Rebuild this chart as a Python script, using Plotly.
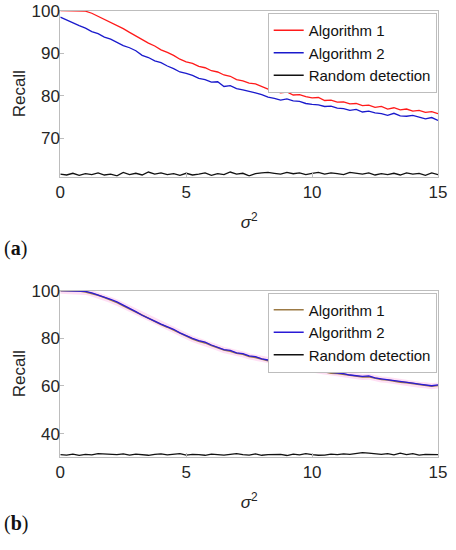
import plotly.graph_objects as go

# noise variance (x axis), shared by every curve
sigma2 = [0, 0.25, 0.5, 0.75, 1, 1.25, 1.5, 1.75, 2, 2.25,
          2.5, 2.75, 3, 3.25, 3.5, 3.75, 4, 4.25, 4.5, 4.75,
          5, 5.25, 5.5, 5.75, 6, 6.25, 6.5, 6.75, 7, 7.25,
          7.5, 7.75, 8, 8.25, 8.5, 8.75, 9, 9.25, 9.5, 9.75,
          10, 10.25, 10.5, 10.75, 11, 11.25, 11.5, 11.75, 12, 12.25,
          12.5, 12.75, 13, 13.25, 13.5, 13.75, 14, 14.25, 14.5, 14.75,
          15]

# (a)
a_alg1 = [100, 100, 100, 100, 99.9, 99.4, 98.7, 97.9, 97.3, 96.6,
          95.8, 94.9, 94.0, 93.2, 92.4, 91.7, 90.8, 90.2, 89.5, 88.6,
          88.0, 87.6, 86.9, 86.6, 85.9, 85.6, 84.9, 84.6, 83.8, 83.5,
          83.0, 82.8, 82.2, 81.6, 81.2, 80.7, 80.9, 80.2, 80.3, 79.8,
          79.5, 79.6, 78.9, 79.0, 78.5, 78.6, 78.1, 78.2, 77.7, 77.8,
          77.3, 77.5, 76.9, 77.2, 76.7, 76.9, 76.4, 76.6, 76.1, 76.3,
          75.8]
a_alg2 = [98.5, 97.8, 97.1, 96.5, 95.9, 95.1, 94.6, 93.8, 93.3, 92.5,
          91.8, 91.3, 90.6, 89.5, 89.0, 88.2, 87.8, 87.0, 86.4, 85.6,
          85.3, 84.8, 84.1, 83.8, 83.2, 83.3, 82.2, 82.4, 81.7, 81.4,
          81.1, 80.7, 80.3, 79.7, 79.4, 79.0, 79.3, 78.8, 78.7, 78.2,
          78.0, 77.9, 77.5, 77.6, 77.1, 77.0, 76.6, 76.8, 76.2, 76.4,
          76.0, 75.8, 75.4, 75.9, 75.3, 75.2, 75.4, 75.0, 74.6, 74.9,
          74.2]
a_rand = [61.6, 61.4, 61.8, 61.3, 61.7, 61.5, 61.9, 61.4, 61.6, 61.2,
          62.0, 61.5, 61.8, 61.4, 62.1, 61.6, 61.9, 61.5, 61.7, 61.3,
          61.8, 61.4, 61.6, 61.9, 61.3, 61.7, 61.5, 62.1, 61.6, 61.8,
          61.2, 61.7, 61.9, 62.0, 61.8, 61.6, 62.0, 61.7, 61.9, 61.5,
          61.8, 62.0, 61.6, 61.9, 61.7, 61.5, 62.0, 61.8, 61.6, 61.9,
          61.4, 61.7, 61.5, 61.8, 61.4, 61.9, 61.6, 61.8, 61.3, 61.9,
          61.5]

# (b)
b_alg1 = [100, 100, 100, 99.9, 99.5, 98.9, 98.1, 97.1, 96.1, 95.0,
          93.7, 92.4, 90.9, 89.5, 88.3, 86.9, 85.8, 84.7, 83.5, 82.0,
          80.8, 79.7, 78.8, 78.1, 77.0, 76.1, 75.1, 74.6, 73.7, 73.3,
          72.4, 72.0, 71.2, 70.6, 70.4, 69.7, 68.8, 68.3, 68.0, 67.3,
          67.1, 66.5, 66.1, 65.4, 65.3, 64.9, 64.4, 64.0, 63.8, 63.9,
          63.2, 62.7, 62.5, 62.0, 61.6, 61.4, 61.0, 60.5, 60.3, 59.9,
          60.2]
b_alg2 = [100, 100, 100, 100, 99.7, 99.1, 98.3, 97.4, 96.4, 95.3,
          94.0, 92.7, 91.2, 89.7, 88.6, 87.2, 86.0, 85.0, 83.8, 82.3,
          81.0, 80.0, 79.0, 78.4, 77.2, 76.4, 75.3, 74.9, 73.9, 73.6,
          72.6, 72.3, 71.4, 70.9, 70.6, 70.0, 69.0, 68.6, 68.2, 67.6,
          67.3, 66.8, 66.3, 65.7, 65.5, 65.2, 64.6, 64.3, 64.0, 64.2,
          63.4, 63.0, 62.7, 62.3, 61.8, 61.7, 61.2, 60.8, 60.5, 60.1,
          60.5]
b_rand = [31.2, 31.0, 31.4, 30.9, 31.3, 31.1, 31.6, 31.5, 31.3, 31.2,
          31.5, 31.0, 31.4, 31.2, 30.9, 31.3, 31.5, 31.1, 31.2, 31.6,
          31.0, 31.3, 31.2, 30.9, 31.4, 31.1, 31.0, 31.3, 31.6, 31.2,
          31.0, 31.5, 30.9, 31.2, 31.1, 31.3, 30.8, 31.4, 31.1, 31.6,
          31.2, 30.9, 31.0, 31.4, 31.2, 31.5, 31.3, 31.7, 32.0, 31.8,
          31.5, 31.3, 31.6, 31.1, 31.8, 31.2, 31.6, 31.0, 31.3, 31.1,
          31.2]

legend_names = ['Algorithm 1', 'Algorithm 2', 'Random detection']

FONT = 'Liberation Sans, Arial, sans-serif'
GRAY = '#bdbdbd'
TXT = '#262626'
W, H = 456, 550


def fx(px):
    return px / W


def fy(py):
    return 1 - py / H


fig = go.Figure()

# --- panel (a)
fig.add_trace(go.Scatter(x=sigma2, y=a_alg1, name=legend_names[0], mode='lines',
                         line=dict(color='#ff1a1a', width=1.3), legend='legend'))
fig.add_trace(go.Scatter(x=sigma2, y=a_alg2, name=legend_names[1], mode='lines',
                         line=dict(color='#1a1acc', width=1.3), legend='legend'))
fig.add_trace(go.Scatter(x=sigma2, y=a_rand, name=legend_names[2], mode='lines',
                         line=dict(color='#111111', width=1.3), legend='legend'))

# --- panel (b)
# faint pink halo seen around the overlapping curves
fig.add_trace(go.Scatter(x=sigma2, y=b_alg1, mode='lines', showlegend=False,
                         hoverinfo='skip', line=dict(color='rgba(255,150,220,0.3)', width=6),
                         xaxis='x2', yaxis='y2'))
fig.add_trace(go.Scatter(x=sigma2, y=b_alg1, name=legend_names[0], mode='lines',
                         line=dict(color='#9c7a45', width=1.6), xaxis='x2', yaxis='y2',
                         legend='legend2'))
fig.add_trace(go.Scatter(x=sigma2, y=b_alg2, name=legend_names[1], mode='lines',
                         line=dict(color='#2a1ad6', width=1.3), xaxis='x2', yaxis='y2',
                         legend='legend2'))
fig.add_trace(go.Scatter(x=sigma2, y=b_rand, name=legend_names[2], mode='lines',
                         line=dict(color='#111111', width=1.3), xaxis='x2', yaxis='y2',
                         legend='legend2'))

axis_style = dict(showline=True, linecolor=GRAY, linewidth=1, mirror=True,
                  ticks='inside', ticklen=4, tickcolor=GRAY, showgrid=False,
                  zeroline=False, automargin=False,
                  tickfont=dict(family=FONT, size=17, color=TXT))
x_dom = [fx(60.3), fx(438)]
sig_title = dict(text='<i>σ</i><sup>2</sup>', font=dict(family=FONT, size=17, color=TXT),
                 standoff=15)
rec_title = dict(text='Recall', font=dict(family=FONT, size=17, color=TXT), standoff=1)

legend_style = dict(xanchor='right', yanchor='top', bgcolor='white',
                    bordercolor=GRAY, borderwidth=1, tracegroupgap=0,
                    font=dict(family=FONT, size=15, color='#111111'),
                    itemwidth=30)

fig.update_layout(
    width=W, height=H,
    margin=dict(l=0, r=0, t=0, b=0, autoexpand=False),
    paper_bgcolor='white', plot_bgcolor='white',
    showlegend=True,
    xaxis=dict(domain=x_dom, range=[0, 15], tickvals=[0, 5, 10, 15],
               anchor='y', title=sig_title, **axis_style),
    yaxis=dict(domain=[fy(176.7), fy(10.7)], range=[61, 100],
               tickvals=[70, 80, 90, 100], anchor='x', title=rec_title,
               ticklabelstandoff=-4, **axis_style),
    xaxis2=dict(domain=x_dom, range=[0, 15], tickvals=[0, 5, 10, 15],
                anchor='y2', title=sig_title, **axis_style),
    yaxis2=dict(domain=[fy(456.7), fy(290.7)], range=[30.3, 100],
                tickvals=[40, 60, 80, 100], anchor='x2', title=rec_title,
                ticklabelstandoff=-4, **axis_style),
    legend=dict(x=fx(436.7), y=fy(13), **legend_style),
    legend2=dict(x=fx(436.7), y=fy(292.5), **legend_style),
)

# panel labels
for lab, ypx in [('a', 248), ('b', 523)]:
    fig.add_annotation(text=f'(<b>{lab}</b>)', x=fx(2), y=fy(ypx),
                       xref='paper', yref='paper', xanchor='left', yanchor='middle',
                       showarrow=False,
                       font=dict(family='Liberation Serif, serif', size=20, color='#111111'))

fig.write_html("out.html", config={'displayModeBar': False},
               post_script="document.body.style.margin='0';")
